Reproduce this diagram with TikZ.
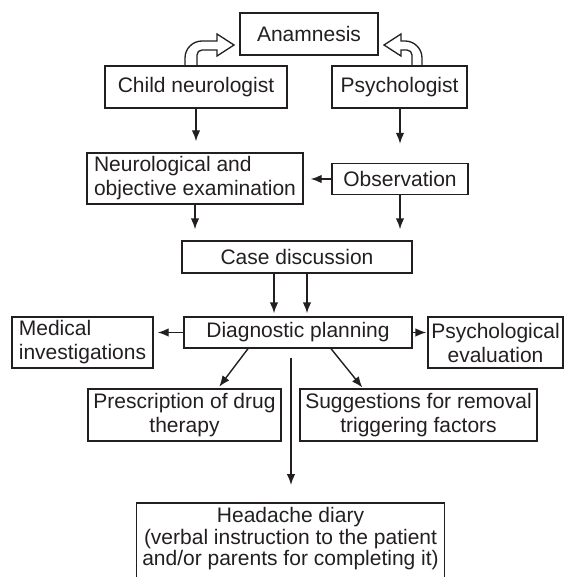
\documentclass[tikz,border=0pt]{standalone}
\usepackage{fontspec}
\setmainfont{Liberation Sans}
\usetikzlibrary{arrows.meta}
\definecolor{ink}{HTML}{231F20}
\begin{document}
\begin{tikzpicture}[x=1pt,y=-1pt,
  bx/.style={draw=ink, line width=1.4pt, inner sep=0pt, text=ink,
    font=\fontsize{21}{24}\selectfont, align=center},
  arr/.style={draw=ink, line width=1.4pt, -{Latex[length=11pt,width=8.5pt]}},
  hollow/.style={draw=ink, line width=1.3pt, line join=miter}]
\useasboundingbox (0,0) rectangle (566,577);

\node[bx, minimum width=138pt, minimum height=42pt] (ana) at (309,34) {Anamnesis};
\node[bx, minimum width=182pt, minimum height=42pt] (cn) at (196,87) {Child neurologist};
\node[bx, minimum width=135pt, minimum height=42pt] (ps) at (399.5,87) {Psychologist};
\node[bx, minimum width=216pt, minimum height=51pt, align=left] (neu) at (195,178.5) {Neurological and\\objective examination};
\node[bx, minimum width=136pt, minimum height=31pt] (obs) at (400,179) {Observation};
\node[bx, minimum width=230pt, minimum height=32pt] (case) at (297,257) {Case discussion};
\node[bx, minimum width=228pt, minimum height=31pt] (diag) at (298,332.5) {Diagnostic planning};
\node[bx, minimum width=141pt, minimum height=51pt, align=left] (med) at (82.5,342.5) {Medical\\investigations};
\node[bx, minimum width=135pt, minimum height=51pt] (pe) at (495.5,342.5) {Psychological\\evaluation};
\node[bx, minimum width=193pt, minimum height=52pt] (pr) at (184.5,415) {Prescription of drug\\therapy};
\node[bx, minimum width=237pt, minimum height=52pt] (sg) at (418.5,415) {Suggestions for removal\\triggering factors};
\node[bx, draw=none, minimum width=307pt, inner ysep=4pt, anchor=north,
  font=\fontsize{21}{21.5}\selectfont] (hd) at (290.5,503)
  {Headache diary\\(verbal instruction to the patient\\and/or parents for completing it)};
\draw[draw=ink, line width=1.4pt] (hd.north west |- 0,580) -- (hd.north west) -- (hd.north east) -- (hd.north east |- 0,580);

% hollow arrows to Anamnesis
\draw[hollow] (185,66) -- (185,58) .. controls (185,48.6) and (192.6,41) .. (202,41) -- (217,41) -- (217,34) -- (234,45) -- (217,56) -- (217,50) -- (202,50) .. controls (199.2,50) and (197,52.2) .. (197,55) -- (197,66);
\draw[hollow] (422,66) -- (422,58) .. controls (422,48.6) and (414.4,41) .. (405,41) -- (401,41) -- (401,34) -- (384,45) -- (401,56) -- (401,50) -- (407,50) .. controls (409.8,50) and (412,52.2) .. (412,55) -- (412,66);

% connectors
\draw[arr, shorten >=11pt] (cn.south) -- (cn.south |- neu.north);
\draw[arr, shorten >=19pt] ([xshift=0.5pt]ps.south) -- ([xshift=0.5pt]ps.south |- obs.north);
\draw[arr, shorten >=7pt] (obs.west) -- (obs.west -| neu.east);
\draw[arr, shorten >=11pt] (neu.south) -- (neu.south |- case.north);
\draw[arr, shorten >=11pt] (obs.south) -- (obs.south |- case.north);
\draw[arr, shorten >=3pt] ([xshift=-23pt]case.south) -- ([xshift=-23pt]case.south |- diag.north);
\draw[arr, shorten >=3pt] ([xshift=10pt]case.south) -- ([xshift=10pt]case.south |- diag.north);
\draw[arr, shorten >=4pt] (diag.west) -- (diag.west -| med.east);
\draw[arr, shorten >=1pt] (diag.east) -- (diag.east -| pe.west);
\draw[arr, shorten >=2pt] ([xshift=-50pt]diag.south) -- ([xshift=33.5pt]pr.north);
\draw[arr, shorten >=1pt] ([xshift=33pt]diag.south) -- ([xshift=-55.5pt]sg.north);
\draw[arr, shorten >=18pt] ([xshift=-7pt,yshift=-9pt]diag.south) -- ([xshift=-7pt]diag.south |- hd.north);
\end{tikzpicture}
\end{document}
